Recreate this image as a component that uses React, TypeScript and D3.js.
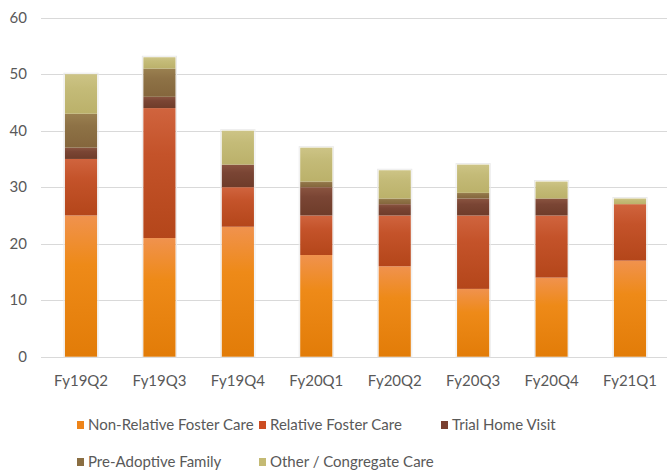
import React from "react";
import * as d3 from "d3";

const categories = ["Fy19Q2", "Fy19Q3", "Fy19Q4", "Fy20Q1", "Fy20Q2", "Fy20Q3", "Fy20Q4", "Fy21Q1"];
const seriesNames = ["Non-Relative Foster Care", "Relative Foster Care", "Trial Home Visit", "Pre-Adoptive Family", "Other / Congregate Care"];
const nonRelative = [25, 21, 23, 18, 16, 12, 14, 17];
const relative = [10, 23, 7, 7, 9, 13, 11, 10];
const trialHome = [2, 2, 4, 5, 2, 3, 3, 0];
const preAdoptive = [6, 5, 0, 1, 1, 1, 0, 0];
const otherCongregate = [7, 2, 6, 6, 5, 5, 3, 1];
const yTicks = [0, 10, 20, 30, 40, 50, 60];

const seriesValues = [nonRelative, relative, trialHome, preAdoptive, otherCongregate];
const gradTop = ["#f0924e", "#d0643e", "#8a5440", "#9a8050", "#cdc486"];
const gradMid = ["#ee8a18", "#c4532a", "#7a4534", "#8e7246", "#c4bb78"];
const gradBottom = ["#e27c08", "#b4461a", "#6e3c2a", "#84663c", "#bbb16a"];
const legendColors = ["#ee8418", "#cc4c22", "#7a4030", "#8a6e42", "#c4ba74"];

const W = 667;
const H = 475;
const FONT = "Lato, 'Liberation Sans', sans-serif";
const FS = 15;

export default function App() {
  const x = d3.scaleBand<string>().domain(categories).range([41.8, 669.2]).paddingInner(0.59).paddingOuter(0.295);
  const y = d3.scaleLinear().domain([0, 60]).range([356.7, 17.7]);

  const rows = categories.map((c, i) => {
    const r: any = { cat: c };
    seriesNames.forEach((s, k) => (r[s] = seriesValues[k][i]));
    return r;
  });
  const stacked = d3.stack<any>().keys(seriesNames)(rows);

  const legendPos = [
    [77, 425], [259, 425], [441, 425],
    [77, 462], [259, 462],
  ];

  return (
    <svg width={W} height={H} style={{ position: "absolute", left: 0, top: 0, background: "#fff" }}>
      <defs>
        {seriesNames.map((s, k) => (
          <linearGradient key={k} id={`g${k}`} x1="0" y1="0" x2="0" y2="1">
            <stop offset="0%" stopColor={gradTop[k]} />
            <stop offset="35%" stopColor={gradMid[k]} />
            <stop offset="100%" stopColor={gradBottom[k]} />
          </linearGradient>
        ))}
      </defs>
      {yTicks.map((t) => (
        <g key={t}>
          <line x1={41} x2={669} y1={Math.round(y(t)) + 0.5} y2={Math.round(y(t)) + 0.5} stroke="#d9d9d9" strokeWidth={1} />
          <text x={27} y={y(t)} dy="0.35em" textAnchor="end" fontFamily={FONT} fontSize={FS} fill="#595959">{t}</text>
        </g>
      ))}
      {categories.map((c, i) => {
        const total = seriesValues.reduce((a, v) => a + v[i], 0);
        return (
          <rect key={"sh" + c} x={(x(c) as number) - 1} y={y(total) - 1} width={x.bandwidth() + 2} height={y(0) - y(total) + 1}
            fill="none" stroke="#ebebeb" strokeWidth={1} />
        );
      })}
      {stacked.map((layer, k) => (
        <g key={k}>
          {layer.map((d, i) => {
            const h = y(d[0]) - y(d[1]);
            if (h <= 0) return null;
            return (
              <rect key={i} x={x(categories[i])} y={y(d[1])} width={x.bandwidth()} height={h} fill={`url(#g${k})`} />
            );
          })}
        </g>
      ))}
      {categories.map((c) => (
        <text key={c} x={(x(c) as number) + x.bandwidth() / 2} y={386} textAnchor="middle" fontFamily={FONT} fontSize={FS} fill="#595959">{c}</text>
      ))}
      {seriesNames.map((s, k) => (
        <g key={s} transform={`translate(${legendPos[k][0]},${legendPos[k][1]})`}>
          <rect x={0} y={-4} width={7} height={8} fill={legendColors[k]} />
          <text x={11} y={0} dy="0.35em" fontFamily={FONT} fontSize={FS} fill="#595959">{s}</text>
        </g>
      ))}
    </svg>
  );
}
